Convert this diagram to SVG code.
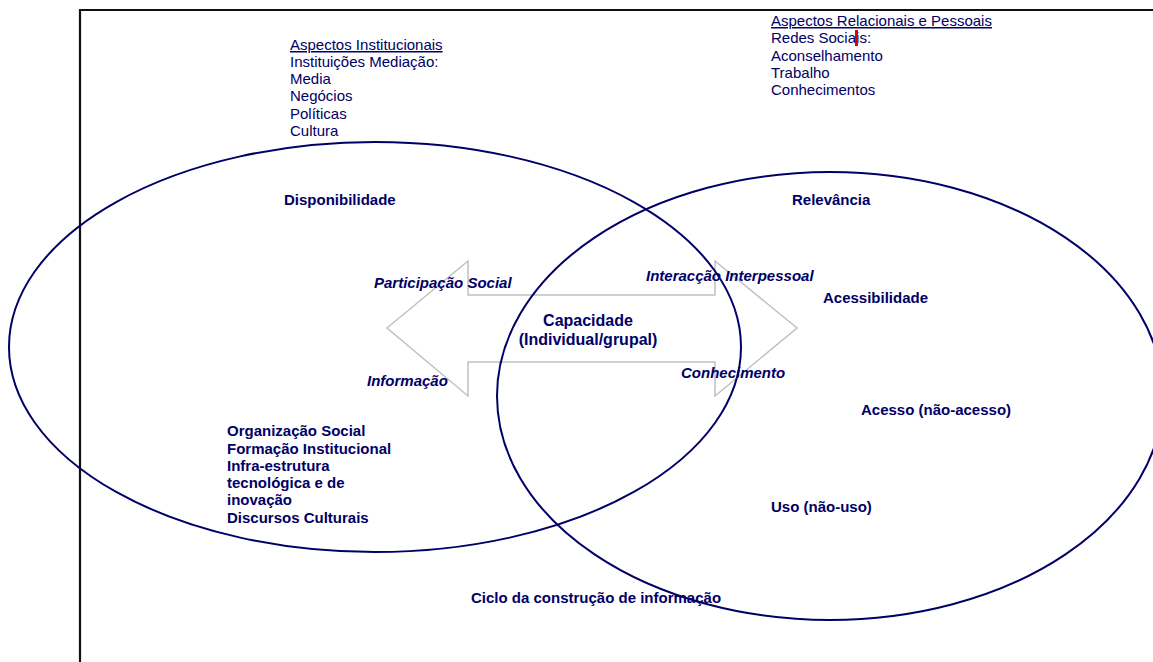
<svg xmlns="http://www.w3.org/2000/svg" width="1153" height="662" viewBox="0 0 1153 662">
<style>
text{font-family:"Liberation Sans",Arial,sans-serif;font-size:15px;fill:#000066}
.b{font-weight:bold}
.bi{font-weight:bold;font-style:italic}
.u{text-decoration:underline}
.ell{fill:none;stroke:#000066;stroke-width:2}
.arrow{fill:none;stroke:#c0c0c0;stroke-width:1.5}
.frame{fill:none;stroke:#111;stroke-width:2.2}
</style>
<rect width="1153" height="662" fill="#fff"/>
<path class="frame" d="M80,662 V10 H1153"/>
<g id="arrow">
<polygon class="arrow" points="387,328 468,261 468,295 715,295 715,261 797,328 715,396 715,362 468,362 468,396"/>
</g>
<g id="institucionais">
<text x="290" y="50" class="u">Aspectos Institucionais</text>
<text x="290" y="67">Instituições Mediação:</text>
<text x="290" y="84">Media</text>
<text x="290" y="101">Negócios</text>
<text x="290" y="119">Políticas</text>
<text x="290" y="136">Cultura</text>
</g>
<g id="relacionais">
<text x="771" y="26" class="u">Aspectos Relacionais e Pessoais</text>
<text x="771" y="43">Redes Sociais:</text>
<text x="771" y="61">Aconselhamento</text>
<text x="771" y="78">Trabalho</text>
<text x="771" y="95">Conhecimentos</text>
<rect x="855" y="30" width="3" height="16" fill="#e00000"/>
</g>
<g id="labels">
<text x="284" y="205" class="b">Disponibilidade</text>
<text x="792" y="205" class="b">Relevância</text>
<text x="823" y="303" class="b">Acessibilidade</text>
<text x="861" y="415" class="b">Acesso (não-acesso)</text>
<text x="771" y="512" class="b">Uso (não-uso)</text>
<text x="471" y="603" class="b">Ciclo da construção de informação</text>
<text x="374" y="288" class="bi">Participação Social</text>
<text x="646" y="281" class="bi">Interacção Interpessoal</text>
<text x="367" y="386" class="bi">Informação</text>
<text x="681" y="378" class="bi">Conhecimento</text>
<text x="588" y="326" class="b" font-size="16" text-anchor="middle" style="font-size:16px">Capacidade</text>
<text x="588" y="345" class="b" text-anchor="middle" style="font-size:16px">(Individual/grupal)</text>
</g>
<g id="factores">
<text x="227" y="436" class="b">Organização Social</text>
<text x="227" y="454" class="b">Formação Institucional</text>
<text x="227" y="471" class="b">Infra-estrutura</text>
<text x="227" y="488" class="b">tecnológica e de</text>
<text x="227" y="505" class="b">inovação</text>
<text x="227" y="523" class="b">Discursos Culturais</text>
</g>
<g id="ellipses">
<ellipse id="left" class="ell" cx="375" cy="347" rx="366" ry="205"/>
<ellipse id="right" class="ell" cx="830" cy="396" rx="333" ry="224"/>
</g>
</svg>
